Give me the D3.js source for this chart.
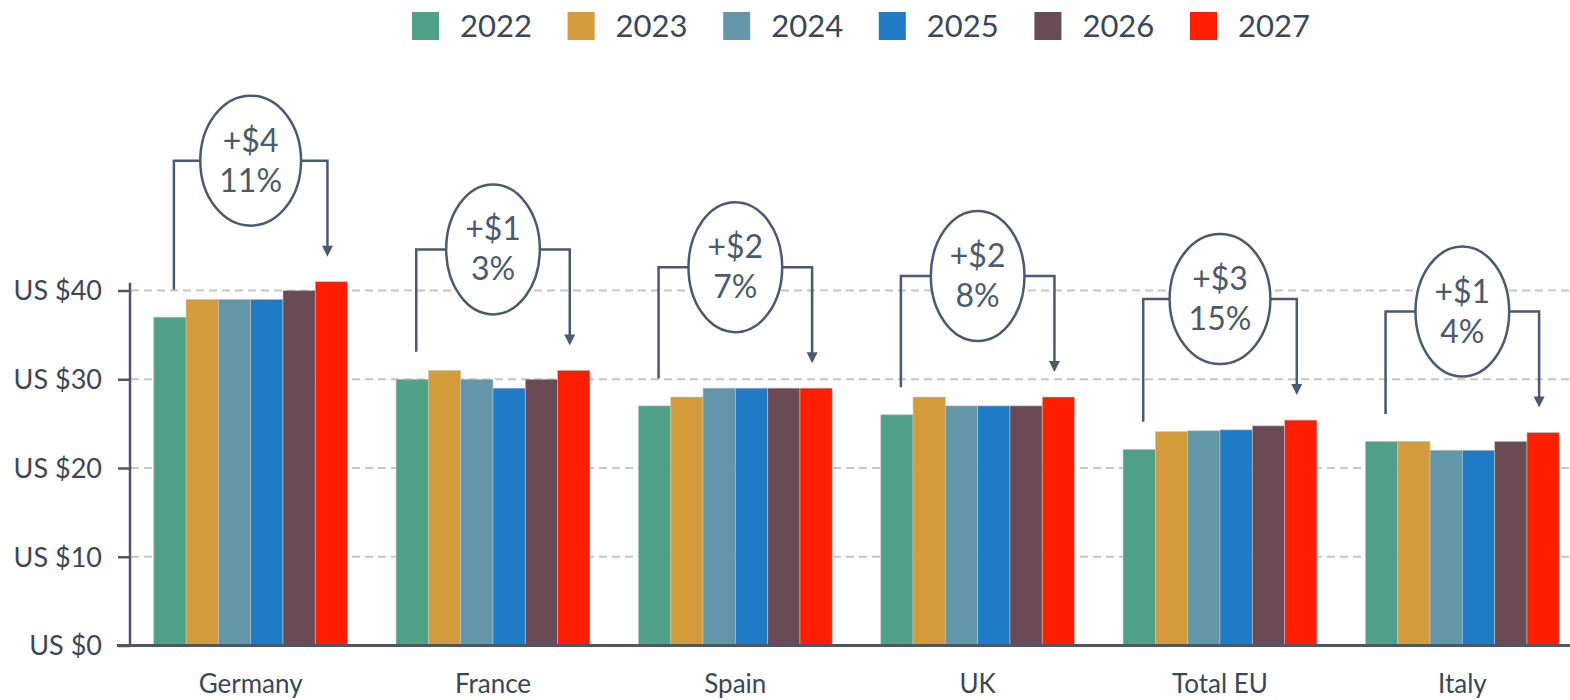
<!DOCTYPE html>
<html>
<head>
<meta charset="utf-8">
<script src="https://cdn.jsdelivr.net/npm/d3@7"></script>
<style>
  html, body { margin: 0; padding: 0; background: #fff; }
  svg { display: block; font-family: Lato, "Open Sans", sans-serif; }
</style>
</head>
<body>
<svg id="chart" width="1570" height="700"></svg>
<script>
const categories = ["Germany", "France", "Spain", "UK", "Total EU", "Italy"];
const years = ["2022", "2023", "2024", "2025", "2026", "2027"];
const values2022 = [37, 30, 27, 26, 22.1, 23];
const values2023 = [39, 31, 28, 28, 24.1, 23];
const values2024 = [39, 30, 29, 27, 24.2, 22];
const values2025 = [39, 29, 29, 27, 24.3, 22];
const values2026 = [40, 30, 29, 27, 24.75, 23];
const values2027 = [41, 31, 29, 28, 25.4, 24];
const changeLabels = ["+$4", "+$1", "+$2", "+$2", "+$3", "+$1"];
const pctLabels = ["11%", "3%", "7%", "8%", "15%", "4%"];
const yTicks = [0, 10, 20, 30, 40];
const colors = ["#4ea087", "#d39b3a", "#6396a9", "#1f7bc5", "#6a4a55", "#ff1e00"];

const series = [values2022, values2023, values2024, values2025, values2026, values2027];
const rows = categories.map((c, i) => ({
  cat: c,
  vals: years.map((y, j) => ({ year: y, value: series[j][i], color: colors[j] })),
  change: changeLabels[i],
  pct: pctLabels[i]
}));

const svg = d3.select("#chart");
const W = 1570;
const axisColor = "#4b5668";
const annColor = "#4b5a6e";
const textColor = "#3b4758";

const x = d3.scaleBand().domain(categories).range([129.5, 1583.5]).paddingInner(0.2).paddingOuter(0.1);
const xi = d3.scaleBand().domain(years).range([0, x.bandwidth()]);
const y = d3.scaleLinear().domain([0, 40]).range([645.5, 290.5]);

// gridlines
svg.append("g").selectAll("line").data(yTicks.filter(d => d > 0)).join("line")
  .attr("x1", 131).attr("x2", W)
  .attr("y1", d => y(d)).attr("y2", d => y(d))
  .attr("stroke", "#c6c6c6").attr("stroke-width", 2).attr("stroke-dasharray", "8,5");

// bars
const groups = svg.append("g").selectAll("g").data(rows).join("g")
  .attr("transform", d => `translate(${x(d.cat)},0)`);
groups.selectAll("rect").data(d => d.vals).join("rect")
  .attr("x", d => xi(d.year))
  .attr("width", xi.bandwidth())
  .attr("y", d => y(d.value))
  .attr("height", d => y(0) - y(d.value))
  .attr("fill", d => d.color)
  .attr("stroke", "rgba(200,200,200,0.7)")
  .attr("stroke-width", 0.8);

// y axis
const yAxis = d3.axisLeft(y).tickValues(yTicks).tickFormat(d => "US $" + d).tickSize(12).tickPadding(16);
const gy = svg.append("g").attr("transform", "translate(130,0)").call(yAxis);
gy.select(".domain").remove();
gy.selectAll(".tick line").attr("stroke", axisColor).attr("stroke-width", 2.5);
gy.selectAll(".tick text").attr("fill", textColor).attr("font-size", 27).attr("font-family", "Lato, sans-serif")
  .attr("dy", "0.35em");
svg.append("line").attr("x1", 130).attr("x2", 130)
  .attr("y1", y(0)).attr("y2", y(d3.max(values2027)) + 1)
  .attr("stroke", axisColor).attr("stroke-width", 2.5);

// x axis
const xAxis = d3.axisBottom(x).tickSize(0).tickPadding(29);
const gx = svg.append("g").attr("transform", `translate(0,${y(0)})`).call(xAxis);
gx.select(".domain").remove();
gx.selectAll(".tick text").attr("fill", textColor).attr("font-size", 26).attr("font-family", "Lato, sans-serif");
svg.append("line").attr("x1", 117).attr("x2", W).attr("y1", y(0)).attr("y2", y(0))
  .attr("stroke", axisColor).attr("stroke-width", 3);

// annotations
const ann = svg.append("g");
rows.forEach(r => {
  const x0 = x(r.cat);
  const bw = xi.bandwidth();
  const first = r.vals[0].value;
  const last = r.vals[r.vals.length - 1].value;
  const maxV = d3.max(r.vals, d => d.value);
  const cx = x0 + x.bandwidth() / 2;
  const cy = y(maxV) - 121;
  const lx = x0 + xi(years[0]) + bw / 2 + 4;
  const rx = x0 + xi(years[years.length - 1]) + bw / 2 - 4;
  const leftBottom = y(first) - 27.5;
  const tipY = y(last) - 25;
  const g = ann.append("g");
  g.append("path")
    .attr("d", `M${lx},${leftBottom} V${cy} H${rx} V${tipY - 10}`)
    .attr("fill", "none").attr("stroke", annColor).attr("stroke-width", 2.5);
  g.append("path")
    .attr("d", `M${rx - 5.5},${tipY - 11} L${rx + 5.5},${tipY - 11} L${rx},${tipY} Z`)
    .attr("fill", annColor);
  const ell = g.append("ellipse").attr("cx", cx).attr("cy", cy).attr("ry", 65)
    .attr("fill", "#fff").attr("stroke", annColor).attr("stroke-width", 2.5);
  const t1 = g.append("text").attr("x", cx).attr("y", cy - 9).attr("text-anchor", "middle")
    .attr("font-size", 32).attr("fill", annColor).text(r.change);
  const t2 = g.append("text").attr("x", cx).attr("y", cy + 31).attr("text-anchor", "middle")
    .attr("font-size", 32).attr("fill", annColor).text(r.pct);
  const mw = Math.max(t1.node().getComputedTextLength(), t2.node().getComputedTextLength());
  ell.attr("rx", mw / 2 + 19);
});

// legend
const legend = svg.append("g").selectAll("g").data(years).join("g")
  .attr("transform", (d, i) => `translate(${412 + i * 155.6},12)`);
legend.append("rect").attr("width", 27).attr("height", 28).attr("fill", (d, i) => colors[i]);
legend.append("text").attr("x", 48).attr("y", 14).attr("dy", "0.36em")
  .attr("font-size", 31).attr("fill", textColor).text(d => d);
</script>
</body>
</html>
